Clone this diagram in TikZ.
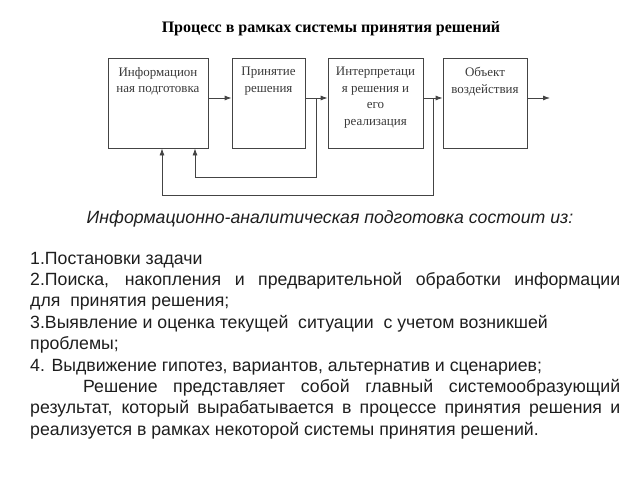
\documentclass[tikz,border=0pt]{standalone}
\usepackage{fontspec}
\setmainfont{Liberation Sans}
\newfontfamily\stagefont{Liberation Serif}
\usetikzlibrary{arrows.meta,calc}
\definecolor{linegray}{HTML}{444444}
\definecolor{stagegray}{HTML}{3A3A3A}
\definecolor{bodyblack}{HTML}{1E1E1E}
\newcommand{\stagetext}[2]{\parbox[c][90pt][t]{#1}{\vspace*{9pt}\centering\fontsize{13}{16.7}\selectfont #2}}

\begin{document}
\begin{tikzpicture}[x=1pt, y=-1pt,
  stage/.style={draw=linegray, line width=0.8pt, inner sep=0pt, text=stagegray, font=\stagefont},
  flow/.style={draw=linegray, line width=0.8pt, -{Latex[length=7pt,width=5pt]}},
  bodyline/.style={anchor=base west, inner sep=0pt, text=bodyblack, font=\fontsize{17.7}{21.4}\selectfont}]
\useasboundingbox (0,0) rectangle (640,480);
% Title
\node[anchor=base, inner sep=0pt, font=\stagefont\bfseries\fontsize{16}{19}\selectfont] (title) at (331,32) {Процесс в рамках системы принятия решений};
% Draw stages
\node[stage] (info) at (158,103) {\stagetext{100pt}{Информацион\\ная подготовка}};
\node[stage] (decision) at (268.5,103) {\stagetext{73pt}{Принятие\\решения}};
\node[stage] (interp) at (375.5,103) {\stagetext{95pt}{Интерпретаци\\я решения и\\его\\реализация}};
\node[stage] (object) at (485,103) {\stagetext{84pt}{Объект\\воздействия}};
% Draw arrows
\foreach \a/\b in {info/decision, decision/interp, interp/object}
    \draw[flow] ([yshift=5pt]\a.east) -- ([yshift=5pt]\b.west);
\coordinate (exit) at (550,98);
\draw[flow] ([yshift=5pt]object.east) -- (exit);
% Feedback loops
\coordinate (fork1) at ($([yshift=5pt]decision.east)!0.5!([yshift=5pt]interp.west)$);
\coordinate (fork2) at ($([yshift=5pt]interp.east)!0.5!([yshift=5pt]object.west)$);
\coordinate (loop1) at (195,177);
\coordinate (loop2) at (162,195);
\draw[flow] (fork1) |- (loop1) -- (loop1 |- info.south);
\draw[flow] (fork2) |- (loop2) -- (loop2 |- info.south);
% Text below
\node[anchor=base, inner sep=0pt, text=bodyblack, font=\itshape\fontsize{17.7}{20}\selectfont] (lead) at (330,223) {Информационно-аналитическая подготовка состоит из:};
\node[bodyline] (item1) at (30,264) {1.Постановки задачи};
\node[bodyline] (item2) at (30,285.4) {\makebox[590pt][s]{2.Поиска, накопления и предварительной обработки информации}};
\node[bodyline] (item2b) at (30,306.8) {для\ \ принятия решения;};
\node[bodyline] (item3) at (30,328.2) {3.Выявление и оценка текущей\ \ ситуации\ \ с учетом возникшей};
\node[bodyline] (item3b) at (30,349.6) {проблемы;};
\node[bodyline] (item4) at (30,371) {4. Выдвижение гипотез, вариантов, альтернатив и сценариев;};
\node[bodyline] (summary1) at (83,392.4) {\makebox[537pt][s]{Решение представляет собой главный системообразующий}};
\node[bodyline] (summary2) at (30,413.8) {\makebox[590pt][s]{результат, который вырабатывается в процессе принятия решения и}};
\node[bodyline] (summary3) at (30,435.2) {реализуется в рамках некоторой системы принятия решений.};
\end{tikzpicture}
\end{document}
